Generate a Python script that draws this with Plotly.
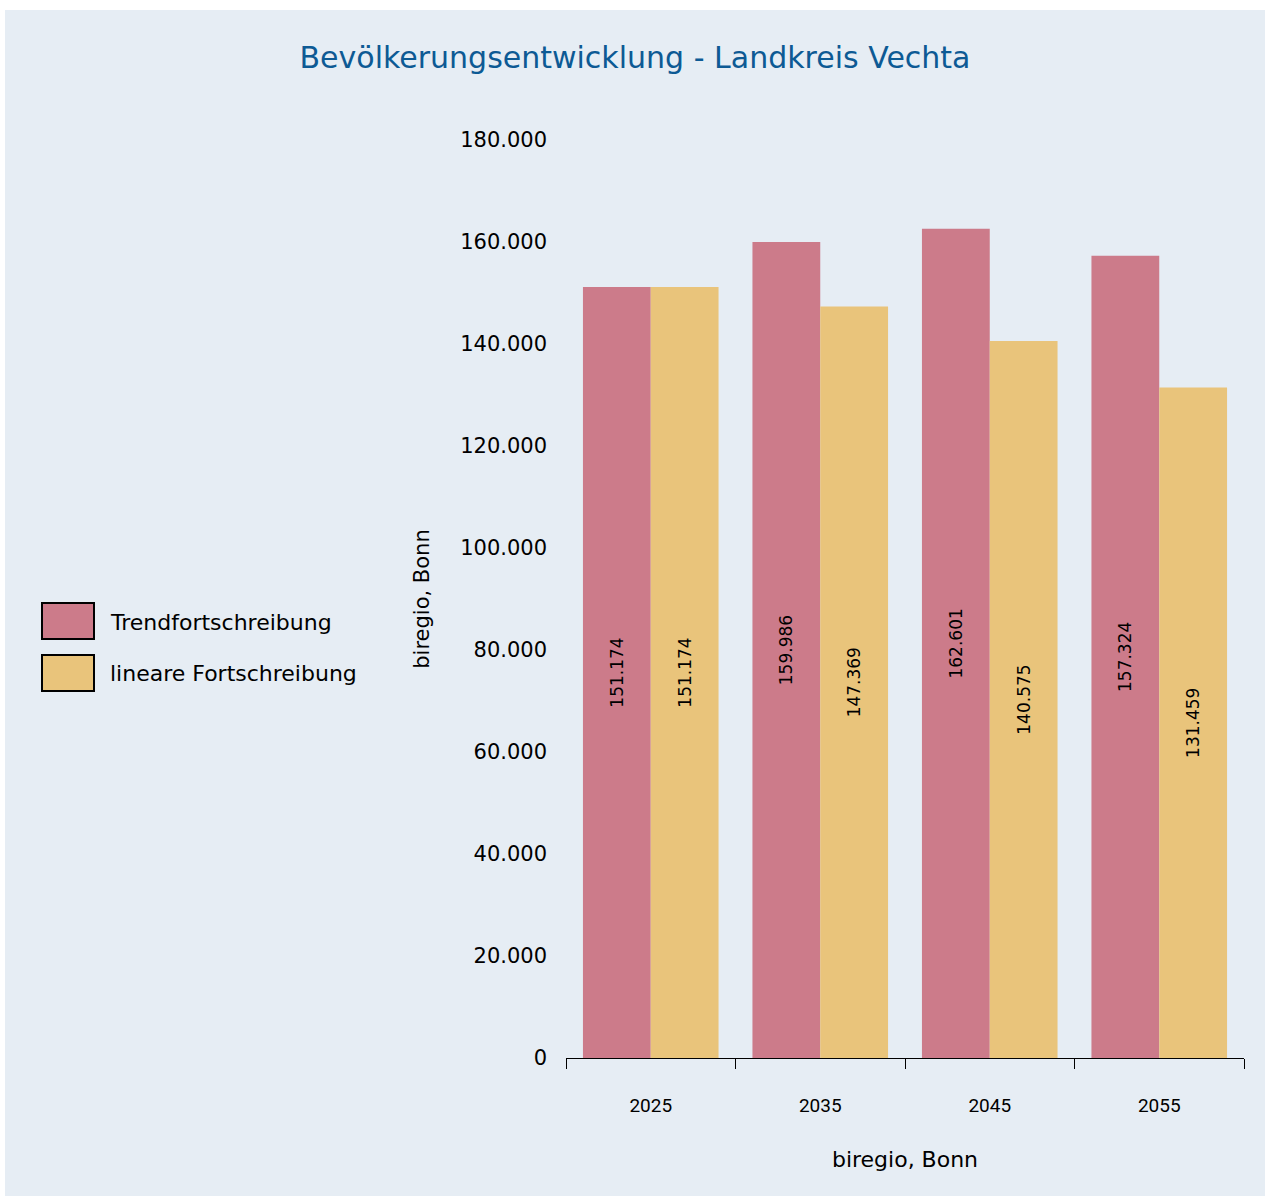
import plotly.graph_objects as go

# ---- data ----
years = ["2025", "2035", "2045", "2055"]
trend = [151174, 159986, 162601, 157324]
linear = [151174, 147369, 140575, 131459]
series_names = ["Trendfortschreibung", "lineare Fortschreibung"]
title_text = "Bevölkerungsentwicklung - Landkreis Vechta"
axis_title = "biregio, Bonn"
y_ticks = [0, 20000, 40000, 60000, 80000, 100000, 120000, 140000, 160000, 180000]

# ---- style ----
BG = "#e6edf4"
PINK = "#cc7b8a"
YELLOW = "#e9c47b"
FONT = "DejaVu Sans"

W, H = 1260, 1186
ML, MR, MT, MB = 561, 21, 130, 138
PW, PH = W - ML - MR, H - MT - MB


def px(x):
    return (x - ML) / PW


def py(y):
    return (H - MB - y) / PH


fig = go.Figure()
for name, vals, col in [(series_names[0], trend, PINK), (series_names[1], linear, YELLOW)]:
    fig.add_trace(go.Bar(
        x=years, y=vals, name=name, marker=dict(color=col, line=dict(width=0)),
        texttemplate="%{y:,}", textposition="inside", insidetextanchor="middle",
        textangle=-90, textfont=dict(size=17, color="black", family=FONT),
        constraintext="none", showlegend=False,
    ))

# custom legend
shapes = []
annotations = []
for i, (name, col) in enumerate([(series_names[0], PINK), (series_names[1], YELLOW)]):
    y0 = 593 + i * 52
    shapes.append(dict(type="rect", xref="paper", yref="paper",
                       x0=px(37), x1=px(89), y0=py(y0), y1=py(y0 + 36),
                       fillcolor=col, line=dict(color="black", width=2)))
    annotations.append(dict(xref="paper", yref="paper", x=px(103), y=py(y0 + 19),
                            xanchor="left", yanchor="middle", showarrow=False,
                            text=name, font=dict(size=22, color="black", family=FONT)))

fig.update_layout(
    width=W, height=H,
    margin=dict(l=ML, r=MR, t=MT, b=MB, pad=0),
    paper_bgcolor=BG, plot_bgcolor=BG,
    separators=",.",
    barmode="group", bargap=0.2, bargroupgap=0,
    title=dict(text=title_text, x=0.5, xanchor="center", y=1 - 47 / H, yanchor="middle",
               font=dict(size=30, color="#0d5a94", family=FONT)),
    shapes=shapes, annotations=annotations,
    xaxis=dict(showline=True, linecolor="black", linewidth=1, ticks="outside",
               tickson="boundaries", ticklen=10, tickcolor="black", tickwidth=1,
               showgrid=False, zeroline=False, ticklabelstandoff=30,
               tickfont=dict(size=19, color="black", family="Roboto"),
               title=dict(text=axis_title, standoff=35,
                          font=dict(size=22, color="black", family=FONT))),
    yaxis=dict(range=[0, 180000], tickvals=y_ticks, tickformat=",", showline=False,
               showgrid=False, zeroline=False, ticks="", ticklabelstandoff=18,
               tickfont=dict(size=21, color="black", family=FONT),
               title=dict(text=axis_title, standoff=24,
                          font=dict(size=21, color="black", family=FONT))),
)

fig.write_html("out.html", post_script="document.body.style.margin='10px 0 0 5px';")
